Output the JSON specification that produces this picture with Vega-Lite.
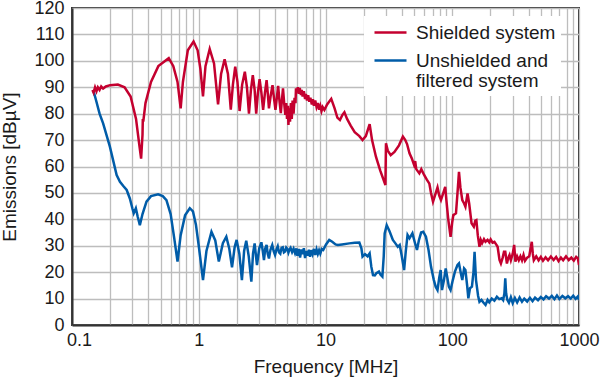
{
  "$schema": "https://vega.github.io/schema/vega-lite/v6.json",
  "width": 507,
  "height": 317,
  "autosize": "none",
  "padding": {"left": 72, "top": 8, "right": 21, "bottom": 53},
  "background": "white",
  "datasets": {
    "shielded": [
      {"mhz":0.145,"dbuv":89},{"mhz":0.148,"dbuv":88},{"mhz":0.152,"dbuv":90},{"mhz":0.156,"dbuv":88.5},{"mhz":0.16,"dbuv":90},{"mhz":0.165,"dbuv":89},{"mhz":0.17,"dbuv":90.3},{"mhz":0.176,"dbuv":89.5},{"mhz":0.185,"dbuv":90.3},{"mhz":0.2,"dbuv":90.8},{"mhz":0.23,"dbuv":91},{"mhz":0.26,"dbuv":90},{"mhz":0.29,"dbuv":86.5},{"mhz":0.32,"dbuv":78},{"mhz":0.34,"dbuv":68},{"mhz":0.351,"dbuv":63},{"mhz":0.36,"dbuv":72},{"mhz":0.362,"dbuv":78},{"mhz":0.365,"dbuv":77},{"mhz":0.38,"dbuv":84},{"mhz":0.42,"dbuv":92},{"mhz":0.48,"dbuv":98},{"mhz":0.58,"dbuv":101},{"mhz":0.63,"dbuv":98},{"mhz":0.68,"dbuv":92},{"mhz":0.72,"dbuv":82},{"mhz":0.75,"dbuv":92},{"mhz":0.82,"dbuv":104},{"mhz":0.91,"dbuv":107.3},{"mhz":0.98,"dbuv":104},{"mhz":1.03,"dbuv":97},{"mhz":1.08,"dbuv":86.5},{"mhz":1.13,"dbuv":98},{"mhz":1.22,"dbuv":104.5},{"mhz":1.32,"dbuv":99},{"mhz":1.42,"dbuv":83.5},{"mhz":1.5,"dbuv":95},{"mhz":1.6,"dbuv":100.6},{"mhz":1.7,"dbuv":95},{"mhz":1.79,"dbuv":81.5},{"mhz":1.86,"dbuv":91},{"mhz":1.94,"dbuv":97.8},{"mhz":2.02,"dbuv":92},{"mhz":2.1,"dbuv":81},{"mhz":2.2,"dbuv":91},{"mhz":2.31,"dbuv":95.9},{"mhz":2.4,"dbuv":90},{"mhz":2.49,"dbuv":80},{"mhz":2.58,"dbuv":89},{"mhz":2.67,"dbuv":94.6},{"mhz":2.76,"dbuv":89},{"mhz":2.84,"dbuv":80},{"mhz":2.93,"dbuv":88},{"mhz":3.02,"dbuv":93.1},{"mhz":3.12,"dbuv":88},{"mhz":3.22,"dbuv":81.4},{"mhz":3.33,"dbuv":88},{"mhz":3.43,"dbuv":92.7},{"mhz":3.5,"dbuv":88},{"mhz":3.58,"dbuv":82},{"mhz":3.7,"dbuv":87},{"mhz":3.82,"dbuv":90.8},{"mhz":3.92,"dbuv":86},{"mhz":4.03,"dbuv":81.4},{"mhz":4.13,"dbuv":86},{"mhz":4.23,"dbuv":90.5},{"mhz":4.33,"dbuv":85},{"mhz":4.44,"dbuv":80.2},{"mhz":4.53,"dbuv":85},{"mhz":4.62,"dbuv":89.6},{"mhz":4.72,"dbuv":84},{"mhz":4.82,"dbuv":79.5},{"mhz":4.9,"dbuv":84},{"mhz":4.97,"dbuv":78},{"mhz":5.05,"dbuv":83},{"mhz":5.1,"dbuv":75.7},{"mhz":5.17,"dbuv":82},{"mhz":5.25,"dbuv":77},{"mhz":5.33,"dbuv":84},{"mhz":5.42,"dbuv":78},{"mhz":5.5,"dbuv":85},{"mhz":5.6,"dbuv":80},{"mhz":5.7,"dbuv":86},{"mhz":5.8,"dbuv":84},{"mhz":5.85,"dbuv":89.6},{"mhz":5.95,"dbuv":88},{"mhz":6.05,"dbuv":90},{"mhz":6.15,"dbuv":87.5},{"mhz":6.27,"dbuv":89.7},{"mhz":6.4,"dbuv":87},{"mhz":6.5,"dbuv":89},{"mhz":6.6,"dbuv":86.5},{"mhz":6.75,"dbuv":88.5},{"mhz":6.9,"dbuv":85.5},{"mhz":7.0,"dbuv":87.5},{"mhz":7.15,"dbuv":85},{"mhz":7.3,"dbuv":87},{"mhz":7.45,"dbuv":84.5},{"mhz":7.6,"dbuv":86},{"mhz":7.8,"dbuv":83.5},{"mhz":7.95,"dbuv":85.5},{"mhz":8.1,"dbuv":83},{"mhz":8.3,"dbuv":85},{"mhz":8.5,"dbuv":82.5},{"mhz":8.7,"dbuv":84},{"mhz":8.9,"dbuv":81.5},{"mhz":9.1,"dbuv":83},{"mhz":9.3,"dbuv":81},{"mhz":9.5,"dbuv":82.5},{"mhz":9.8,"dbuv":81.4},{"mhz":10.3,"dbuv":83.5},{"mhz":11.1,"dbuv":85.6},{"mhz":11.8,"dbuv":82},{"mhz":12.4,"dbuv":78.5},{"mhz":13.0,"dbuv":77.6},{"mhz":13.6,"dbuv":79.5},{"mhz":14.1,"dbuv":80.5},{"mhz":14.8,"dbuv":78},{"mhz":15.8,"dbuv":75.5},{"mhz":17,"dbuv":73},{"mhz":18.5,"dbuv":71.5},{"mhz":19.6,"dbuv":70},{"mhz":20.8,"dbuv":71.5},{"mhz":22.3,"dbuv":76},{"mhz":23.3,"dbuv":70},{"mhz":25,"dbuv":63.7},{"mhz":27,"dbuv":58.5},{"mhz":29.7,"dbuv":53},{"mhz":30,"dbuv":68.8},{"mhz":31,"dbuv":66},{"mhz":32.7,"dbuv":64.3},{"mhz":35,"dbuv":65.5},{"mhz":38,"dbuv":68},{"mhz":40.8,"dbuv":71.3},{"mhz":42.6,"dbuv":70},{"mhz":44,"dbuv":68.5},{"mhz":46,"dbuv":65},{"mhz":48,"dbuv":63},{"mhz":50,"dbuv":60.6},{"mhz":51,"dbuv":62},{"mhz":52,"dbuv":59},{"mhz":55,"dbuv":57.4},{"mhz":57,"dbuv":59},{"mhz":60,"dbuv":56.8},{"mhz":63,"dbuv":55},{"mhz":66,"dbuv":53.5},{"mhz":68,"dbuv":50},{"mhz":70.5,"dbuv":46.7},{"mhz":73,"dbuv":49},{"mhz":76.5,"dbuv":52.1},{"mhz":79,"dbuv":49},{"mhz":81.5,"dbuv":47.3},{"mhz":85,"dbuv":50},{"mhz":88,"dbuv":52.3},{"mhz":90,"dbuv":47},{"mhz":93,"dbuv":40},{"mhz":97,"dbuv":33.4},{"mhz":100,"dbuv":39},{"mhz":102,"dbuv":41.6},{"mhz":105,"dbuv":42},{"mhz":107,"dbuv":42.3},{"mhz":110,"dbuv":50},{"mhz":113,"dbuv":58},{"mhz":116,"dbuv":52},{"mhz":120,"dbuv":47.3},{"mhz":124,"dbuv":46},{"mhz":127,"dbuv":44.8},{"mhz":132,"dbuv":49.8},{"mhz":136,"dbuv":46},{"mhz":142,"dbuv":38.5},{"mhz":148,"dbuv":37.2},{"mhz":152,"dbuv":39.5},{"mhz":155,"dbuv":39.7},{"mhz":159,"dbuv":34},{"mhz":164,"dbuv":29.6},{"mhz":168,"dbuv":32.2},{"mhz":172,"dbuv":31},{"mhz":178,"dbuv":32.5},{"mhz":183,"dbuv":31.5},{"mhz":190,"dbuv":32.2},{"mhz":196,"dbuv":31.3},{"mhz":201,"dbuv":32.4},{"mhz":208,"dbuv":31.2},{"mhz":215,"dbuv":31.5},{"mhz":222,"dbuv":30.5},{"mhz":228,"dbuv":29.6},{"mhz":236,"dbuv":24.6},{"mhz":242,"dbuv":23.3},{"mhz":250,"dbuv":25.5},{"mhz":256,"dbuv":27.7},{"mhz":262,"dbuv":27.7},{"mhz":270,"dbuv":23.3},{"mhz":277,"dbuv":25.5},{"mhz":283,"dbuv":26.5},{"mhz":290,"dbuv":24.5},{"mhz":300,"dbuv":27},{"mhz":308,"dbuv":30.3},{"mhz":315,"dbuv":24},{"mhz":325,"dbuv":26},{"mhz":335,"dbuv":24.5},{"mhz":345,"dbuv":26},{"mhz":355,"dbuv":24.5},{"mhz":365,"dbuv":26.5},{"mhz":375,"dbuv":24.3},{"mhz":390,"dbuv":25.5},{"mhz":405,"dbuv":26},{"mhz":415,"dbuv":29},{"mhz":424,"dbuv":31.5},{"mhz":432,"dbuv":27},{"mhz":440,"dbuv":24.5},{"mhz":460,"dbuv":26},{"mhz":480,"dbuv":24.5},{"mhz":500,"dbuv":25.8},{"mhz":520,"dbuv":24.3},{"mhz":545,"dbuv":25.6},{"mhz":570,"dbuv":24.5},{"mhz":600,"dbuv":25.9},{"mhz":630,"dbuv":24.6},{"mhz":660,"dbuv":25.8},{"mhz":690,"dbuv":24.2},{"mhz":720,"dbuv":25.5},{"mhz":750,"dbuv":24.5},{"mhz":790,"dbuv":26},{"mhz":830,"dbuv":24.6},{"mhz":870,"dbuv":25.5},{"mhz":910,"dbuv":24.4},{"mhz":950,"dbuv":25.8},{"mhz":980,"dbuv":25.2},{"mhz":1000,"dbuv":22.7}
    ],
    "unshielded": [
      {"mhz":0.147,"dbuv":89},{"mhz":0.155,"dbuv":85},{"mhz":0.165,"dbuv":80},{"mhz":0.176,"dbuv":76.3},{"mhz":0.199,"dbuv":67.5},{"mhz":0.225,"dbuv":56.8},{"mhz":0.239,"dbuv":54.2},{"mhz":0.255,"dbuv":52.5},{"mhz":0.27,"dbuv":51.1},{"mhz":0.286,"dbuv":47.9},{"mhz":0.3,"dbuv":44},{"mhz":0.307,"dbuv":42.3},{"mhz":0.319,"dbuv":44.2},{"mhz":0.33,"dbuv":41},{"mhz":0.343,"dbuv":37.8},{"mhz":0.36,"dbuv":42},{"mhz":0.387,"dbuv":46.7},{"mhz":0.42,"dbuv":48.8},{"mhz":0.478,"dbuv":49.5},{"mhz":0.52,"dbuv":48.8},{"mhz":0.556,"dbuv":47.3},{"mhz":0.6,"dbuv":42},{"mhz":0.64,"dbuv":33},{"mhz":0.68,"dbuv":24},{"mhz":0.72,"dbuv":34},{"mhz":0.78,"dbuv":41.5},{"mhz":0.85,"dbuv":44.2},{"mhz":0.9,"dbuv":43},{"mhz":0.95,"dbuv":38},{"mhz":1.0,"dbuv":30},{"mhz":1.08,"dbuv":17},{"mhz":1.15,"dbuv":28},{"mhz":1.26,"dbuv":35.3},{"mhz":1.35,"dbuv":32},{"mhz":1.44,"dbuv":24},{"mhz":1.55,"dbuv":31},{"mhz":1.65,"dbuv":33.4},{"mhz":1.74,"dbuv":29},{"mhz":1.83,"dbuv":21.8},{"mhz":1.92,"dbuv":29.5},{"mhz":1.99,"dbuv":32.2},{"mhz":2.09,"dbuv":27},{"mhz":2.19,"dbuv":17},{"mhz":2.28,"dbuv":28},{"mhz":2.37,"dbuv":31.9},{"mhz":2.48,"dbuv":26},{"mhz":2.6,"dbuv":16.4},{"mhz":2.68,"dbuv":27},{"mhz":2.76,"dbuv":30.9},{"mhz":2.83,"dbuv":26},{"mhz":2.88,"dbuv":22.7},{"mhz":3.0,"dbuv":29},{"mhz":3.12,"dbuv":31.3},{"mhz":3.2,"dbuv":28},{"mhz":3.27,"dbuv":24.6},{"mhz":3.35,"dbuv":29},{"mhz":3.43,"dbuv":30.3},{"mhz":3.5,"dbuv":27},{"mhz":3.58,"dbuv":25.2},{"mhz":3.68,"dbuv":28.5},{"mhz":3.8,"dbuv":30.3},{"mhz":3.9,"dbuv":28},{"mhz":4.0,"dbuv":26.5},{"mhz":4.1,"dbuv":28.5},{"mhz":4.2,"dbuv":29.8},{"mhz":4.3,"dbuv":27.5},{"mhz":4.4,"dbuv":27},{"mhz":4.5,"dbuv":29.2},{"mhz":4.6,"dbuv":29.4},{"mhz":4.7,"dbuv":27.5},{"mhz":4.8,"dbuv":27.8},{"mhz":4.9,"dbuv":29.3},{"mhz":5.0,"dbuv":28.8},{"mhz":5.1,"dbuv":27.4},{"mhz":5.2,"dbuv":28.6},{"mhz":5.3,"dbuv":29.2},{"mhz":5.45,"dbuv":27.6},{"mhz":5.6,"dbuv":28.9},{"mhz":5.75,"dbuv":27.2},{"mhz":5.9,"dbuv":29},{"mhz":6.0,"dbuv":26.2},{"mhz":6.15,"dbuv":28.8},{"mhz":6.3,"dbuv":25.5},{"mhz":6.45,"dbuv":28.6},{"mhz":6.6,"dbuv":26.8},{"mhz":6.75,"dbuv":29.1},{"mhz":6.9,"dbuv":25.3},{"mhz":7.05,"dbuv":28},{"mhz":7.2,"dbuv":26.2},{"mhz":7.4,"dbuv":28.5},{"mhz":7.55,"dbuv":25.8},{"mhz":7.7,"dbuv":28.3},{"mhz":7.9,"dbuv":26.8},{"mhz":8.1,"dbuv":28.8},{"mhz":8.3,"dbuv":26.5},{"mhz":8.5,"dbuv":28.6},{"mhz":8.7,"dbuv":26.9},{"mhz":8.9,"dbuv":28.3},{"mhz":9.1,"dbuv":27},{"mhz":9.35,"dbuv":28.8},{"mhz":9.6,"dbuv":28.4},{"mhz":10.1,"dbuv":30.5},{"mhz":10.7,"dbuv":32.2},{"mhz":11.3,"dbuv":31.5},{"mhz":12,"dbuv":30.5},{"mhz":12.5,"dbuv":30.3},{"mhz":13.5,"dbuv":30.5},{"mhz":15.4,"dbuv":30.9},{"mhz":17,"dbuv":31.1},{"mhz":18.5,"dbuv":31.2},{"mhz":19.2,"dbuv":29},{"mhz":19.6,"dbuv":25.9},{"mhz":20.5,"dbuv":26.8},{"mhz":21.5,"dbuv":26},{"mhz":22.3,"dbuv":27.1},{"mhz":23,"dbuv":22},{"mhz":23.7,"dbuv":18.9},{"mhz":24.5,"dbuv":18.8},{"mhz":25.2,"dbuv":19.6},{"mhz":26.4,"dbuv":20.2},{"mhz":27.2,"dbuv":19},{"mhz":28.1,"dbuv":18.3},{"mhz":28.8,"dbuv":26},{"mhz":29.3,"dbuv":34.7},{"mhz":30.4,"dbuv":37.8},{"mhz":32,"dbuv":35.5},{"mhz":34,"dbuv":32.2},{"mhz":35.5,"dbuv":31},{"mhz":37.2,"dbuv":29.6},{"mhz":38.5,"dbuv":30.3},{"mhz":40,"dbuv":26},{"mhz":41.7,"dbuv":20.8},{"mhz":43,"dbuv":28},{"mhz":44.4,"dbuv":34.1},{"mhz":46,"dbuv":32.8},{"mhz":48.5,"dbuv":34.7},{"mhz":50.5,"dbuv":31.5},{"mhz":52.7,"dbuv":28.4},{"mhz":54.5,"dbuv":32},{"mhz":56.8,"dbuv":35},{"mhz":59,"dbuv":35.3},{"mhz":62,"dbuv":33.4},{"mhz":65,"dbuv":28.4},{"mhz":68,"dbuv":22},{"mhz":71.6,"dbuv":17},{"mhz":74,"dbuv":14.5},{"mhz":76.5,"dbuv":13.2},{"mhz":79,"dbuv":18},{"mhz":81,"dbuv":20.8},{"mhz":83,"dbuv":13.2},{"mhz":86,"dbuv":17},{"mhz":88.8,"dbuv":21.4},{"mhz":91,"dbuv":18.5},{"mhz":94,"dbuv":14.5},{"mhz":97,"dbuv":13.2},{"mhz":101,"dbuv":17},{"mhz":105,"dbuv":20.2},{"mhz":110,"dbuv":22.7},{"mhz":113,"dbuv":23.3},{"mhz":117,"dbuv":19.5},{"mhz":120,"dbuv":17},{"mhz":124,"dbuv":21.4},{"mhz":127,"dbuv":20.8},{"mhz":131,"dbuv":15},{"mhz":134,"dbuv":10.1},{"mhz":138,"dbuv":13.9},{"mhz":143,"dbuv":14.5},{"mhz":147,"dbuv":20},{"mhz":150,"dbuv":27.7},{"mhz":154,"dbuv":17},{"mhz":160,"dbuv":11},{"mhz":164,"dbuv":8.8},{"mhz":170,"dbuv":9.5},{"mhz":176,"dbuv":8.5},{"mhz":183,"dbuv":7.6},{"mhz":190,"dbuv":9.5},{"mhz":196,"dbuv":8.6},{"mhz":205,"dbuv":10},{"mhz":215,"dbuv":9.2},{"mhz":225,"dbuv":10.7},{"mhz":235,"dbuv":9.8},{"mhz":245,"dbuv":10.1},{"mhz":252,"dbuv":9.4},{"mhz":258,"dbuv":12},{"mhz":262,"dbuv":17.7},{"mhz":266,"dbuv":12},{"mhz":272,"dbuv":9.5},{"mhz":280,"dbuv":8.4},{"mhz":290,"dbuv":10.5},{"mhz":300,"dbuv":8.3},{"mhz":312,"dbuv":10.2},{"mhz":325,"dbuv":8.5},{"mhz":340,"dbuv":10.4},{"mhz":355,"dbuv":8.8},{"mhz":370,"dbuv":10},{"mhz":390,"dbuv":8.9},{"mhz":410,"dbuv":10.3},{"mhz":430,"dbuv":9},{"mhz":450,"dbuv":10.4},{"mhz":475,"dbuv":9.4},{"mhz":500,"dbuv":10.6},{"mhz":525,"dbuv":9.7},{"mhz":550,"dbuv":10.9},{"mhz":580,"dbuv":10},{"mhz":610,"dbuv":11},{"mhz":640,"dbuv":9.8},{"mhz":670,"dbuv":11.2},{"mhz":700,"dbuv":9.8},{"mhz":740,"dbuv":11},{"mhz":780,"dbuv":10.1},{"mhz":820,"dbuv":10.9},{"mhz":860,"dbuv":10},{"mhz":900,"dbuv":11.1},{"mhz":940,"dbuv":9.9},{"mhz":980,"dbuv":10.8},{"mhz":1000,"dbuv":9.5}
    ]
  },
  "encoding": {
    "x": {
      "field": "mhz", "type": "quantitative",
      "scale": {"type": "log", "domain": [0.1, 1000], "nice": false},
      "axis": {
        "title": "Frequency [MHz]",
        "values": [0.1,0.2,0.3,0.4,0.5,0.6,0.7,0.8,0.9,1,2,3,4,5,6,7,8,9,10,20,30,40,50,60,70,80,90,100,200,300,400,500,600,700,800,900,1000],
        "labelExpr": "datum.value == 0.1 ? '0.1' : (datum.value == 1 || datum.value == 10 || datum.value == 100 || datum.value == 1000) ? format(datum.value, 'd') : ''",
        "labelOverlap": false,
        "labelFlush": false,
        "labelOffset": {"condition": {"test": "datum.value == 0.1", "value": 7}, "value": 0},
        "labelPadding": 6,
        "titlePadding": 8
      }
    },
    "y": {
      "field": "dbuv", "type": "quantitative",
      "scale": {"domain": [0, 120], "nice": false},
      "axis": {
        "title": "Emissions [dBµV]",
        "values": [0,10,20,30,40,50,60,70,80,90,100,110,120],
        "labelExpr": "format(datum.value, 'd')",
        "labelOverlap": false,
        "labelFlush": false,
        "labelPadding": 8,
        "titlePadding": 14
      }
    },
    "color": {
      "type": "nominal",
      "scale": {"domain": ["Shielded system", "Unshielded and filtered system"], "range": ["#c4002f", "#005ca8"]},
      "legend": {
        "title": null,
        "orient": "none",
        "legendX": 292,
        "legendY": 8,
        "fillColor": "white",
        "padding": 5,
        "symbolType": "M-0.6,0H2.6",
        "symbolSize": 400,
        "symbolStrokeWidth": 2.5,
        "labelFontSize": 19,
        "labelOffset": 24,
        "labelLimit": 400,
        "rowPadding": 6,
        "labelExpr": "datum.label == 'Unshielded and filtered system' ? ['Unshielded and', 'filtered system'] : datum.label"
      }
    }
  },
  "layer": [
    {
      "data": {"name": "unshielded"},
      "mark": {"type": "line", "strokeWidth": 2.5, "clip": true},
      "encoding": {"color": {"datum": "Unshielded and filtered system", "type": "nominal"}}
    },
    {
      "data": {"name": "shielded"},
      "mark": {"type": "line", "strokeWidth": 2.5, "clip": true},
      "encoding": {"color": {"datum": "Shielded system", "type": "nominal"}}
    }
  ],
  "config": {
    "font": "Liberation Sans",
    "view": {"stroke": "#333333", "strokeWidth": 2},
    "style": {"guide-label": {"lineHeight": 20}},
    "axis": {
      "labelFontSize": 18,
      "titleFontSize": 19,
      "titleFontWeight": "normal",
      "labelColor": "#1a1a1a",
      "titleColor": "#1a1a1a",
      "ticks": false,
      "domainColor": "#333333",
      "domainWidth": 2,
      "gridColor": "#bdbdbd",
      "gridWidth": 1.3,
      "gridOpacity": 1
    },
    "axisY": {"labelOverlap": false, "labelSeparation": 0},
    "legend": {"labelColor": "#1a1a1a"}
  }
}
